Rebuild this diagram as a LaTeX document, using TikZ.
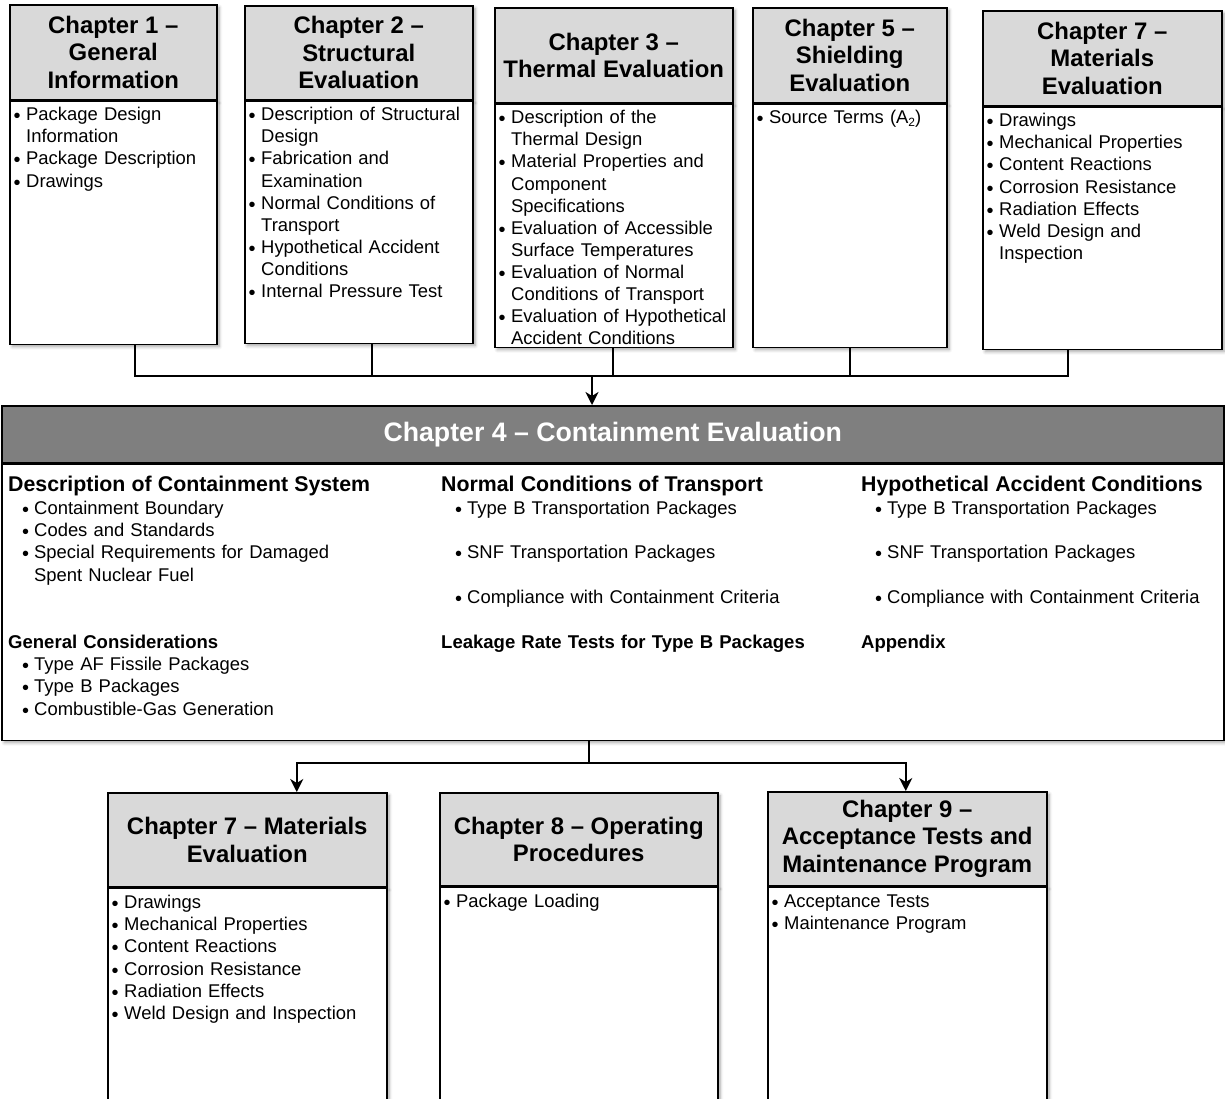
\documentclass[tikz,border=0pt]{standalone}
\usepackage{fontspec}
\setmainfont{Liberation Sans}
\usepackage{xcolor}
\usepackage{tikz}
\usetikzlibrary{arrows.meta,positioning,shadows.blur}

\definecolor{headgray}{HTML}{D9D9D9}
\definecolor{maingray}{HTML}{7F7F7F}

% bullets for the chapter boxes
\newlength{\bulind}
\setlength{\bulind}{17bp}
\newcommand{\bul}{\strut\makebox[\bulind][l]{\hspace{4.5bp}\raisebox{-2bp}{\fontsize{20}{20}\selectfont\textbullet}}}
\newcommand{\cont}{\strut\hspace*{\bulind}}
% indented bullets for chapter 4
\newcommand{\ibul}{\strut\makebox[26bp][l]{\hspace{14bp}\raisebox{-2bp}{\fontsize{20}{20}\selectfont\textbullet}}}
\newcommand{\icont}{\strut\hspace*{26bp}}
\newcommand{\subhead}[1]{{\bfseries\fontsize{21.4}{22.4}\selectfont #1}}
\newcommand{\subsub}[1]{{\bfseries\fontsize{18.6}{22.4}\selectfont #1}}

\begin{document}
\begin{tikzpicture}[
      x=1bp, y=-1bp,
      headbox/.style={
         draw=black,
         line width=1.5bp,
         fill=headgray,
         anchor=north west,
         align=center,
         inner sep=0pt,
         font=\fontsize{24}{27.5}\selectfont\bfseries,
         blur shadow={shadow xshift=2.5bp, shadow yshift=-2.5bp, shadow blur radius=3bp, shadow opacity=35}},
      bodybox/.style={
         draw=black,
         line width=1.5bp,
         fill=white,
         anchor=north west,
         inner sep=0pt,
         blur shadow={shadow xshift=2.5bp, shadow yshift=-2.5bp, shadow blur radius=3bp, shadow opacity=35}},
      bodytext/.style={
         anchor=north west,
         inner sep=0pt,
         text width=330bp,
         align=left,
         font=\fontsize{18.5}{22.2}\selectfont},
      coltext/.style={
         anchor=north west,
         inner sep=0pt,
         text width=420bp,
         align=left,
         font=\fontsize{18.5}{22.4}\selectfont},
      link/.style={line width=2bp},
      myarrow/.style={link, -{Stealth[length=13bp,width=13bp,inset=4bp]}}
      ]
\useasboundingbox (0,0) rectangle (1225,1099);
\clip (0,0) rectangle (1225,1099);

% chapters feeding chapter 4
\node[headbox, minimum width=207bp, minimum height=95bp] (h1) at (9,4) {Chapter 1 --\\General\\Information};
\node[bodybox, minimum width=207bp, minimum height=243bp] (b1) at (h1.south west) {};
\node[bodytext] (t1) at ([yshift=-4.5bp]b1.north west) {%
\bul Package Design\\\cont Information\\
\bul Package Description\\
\bul Drawings};

\node[headbox, minimum width=228bp, minimum height=94bp] (h2) at (244,5) {Chapter 2 --\\Structural\\Evaluation};
\node[bodybox, minimum width=228bp, minimum height=242bp] (b2) at (h2.south west) {};
\node[bodytext] (t2) at ([yshift=-4.5bp]b2.north west) {%
\bul Description of Structural\\\cont Design\\
\bul Fabrication and\\\cont Examination\\
\bul Normal Conditions of\\\cont Transport\\
\bul Hypothetical Accident\\\cont Conditions\\
\bul Internal Pressure Test};

\node[headbox, minimum width=238bp, minimum height=95bp] (h3) at (494,7) {Chapter 3 --\\Thermal Evaluation};
\node[bodybox, minimum width=238bp, minimum height=243bp] (b3) at (h3.south west) {};
\node[bodytext] (t3) at ([yshift=-4.5bp]b3.north west) {%
\bul Description of the\\\cont Thermal Design\\
\bul Material Properties and\\\cont Component\\\cont Specifications\\
\bul Evaluation of Accessible\\\cont Surface Temperatures\\
\bul Evaluation of Normal\\\cont Conditions of Transport\\
\bul Evaluation of Hypothetical\\\cont Accident Conditions};

\node[headbox, minimum width=194bp, minimum height=95bp] (h5) at (752,7) {Chapter 5 --\\Shielding\\Evaluation};
\node[bodybox, minimum width=194bp, minimum height=243bp] (b5) at (h5.south west) {};
\node[bodytext] (t5) at ([yshift=-4.5bp]b5.north west) {%
\bul Source Terms (A\raisebox{-0.25ex}{\fontsize{12}{12}\selectfont 2})};

\node[headbox, minimum width=239bp, minimum height=95bp] (h7) at (982,10) {Chapter 7 --\\Materials\\Evaluation};
\node[bodybox, minimum width=239bp, minimum height=242bp] (b7) at (h7.south west) {};
\node[bodytext] (t7) at ([yshift=-4.5bp]b7.north west) {%
\bul Drawings\\
\bul Mechanical Properties\\
\bul Content Reactions\\
\bul Corrosion Resistance\\
\bul Radiation Effects\\
\bul Weld Design and\\\cont Inspection};

% chapter 4
\node[headbox, fill=maingray, text=white, minimum width=1222bp, minimum height=57bp,
      font=\fontsize{26.8}{30}\selectfont\bfseries] (ch4h) at (1,405) {Chapter 4 -- Containment Evaluation};
\node[bodybox, minimum width=1222bp, minimum height=276bp] (ch4b) at (ch4h.south west) {};

\node[coltext] (d1) at (8,476.3) {%
\subhead{Description of Containment System}\\
\ibul Containment Boundary\\
\ibul Codes and Standards\\
\ibul Special Requirements for Damaged\\\icont Spent Nuclear Fuel\\[44.8bp]
\subsub{General Considerations}\\
\ibul Type AF Fissile Packages\\
\ibul Type B Packages\\
\ibul Combustible-Gas Generation};

\node[coltext] (d2) at (441,476.3) {%
\subhead{Normal Conditions of Transport}\\
\ibul Type B Transportation Packages\\[22.4bp]
\ibul SNF Transportation Packages\\[22.4bp]
\ibul Compliance with Containment Criteria\\[22.4bp]
\subsub{Leakage Rate Tests for Type B Packages}};

\node[coltext] (d3) at (861,476.3) {%
\subhead{Hypothetical Accident Conditions}\\
\ibul Type B Transportation Packages\\[22.4bp]
\ibul SNF Transportation Packages\\[22.4bp]
\ibul Compliance with Containment Criteria\\[22.4bp]
\subsub{Appendix}};

% chapters after chapter 4
\node[headbox, minimum width=279bp, minimum height=94bp] (c7h) at (107,792) {Chapter 7 -- Materials\\Evaluation};
\node[bodybox, minimum width=279bp, minimum height=260bp] (c7b) at (c7h.south west) {};
\node[bodytext] (c7t) at ([yshift=-5.5bp]c7b.north west) {%
\bul Drawings\\
\bul Mechanical Properties\\
\bul Content Reactions\\
\bul Corrosion Resistance\\
\bul Radiation Effects\\
\bul Weld Design and Inspection};

\node[headbox, minimum width=278bp, minimum height=93bp] (c8h) at (439,792) {Chapter 8 -- Operating\\Procedures};
\node[bodybox, minimum width=278bp, minimum height=260bp] (c8b) at (c8h.south west) {};
\node[bodytext] (c8t) at ([yshift=-5.5bp]c8b.north west) {%
\bul Package Loading};

\node[headbox, minimum width=279bp, minimum height=94bp] (c9h) at (767,791) {Chapter 9 --\\Acceptance Tests and\\Maintenance Program};
\node[bodybox, minimum width=279bp, minimum height=260bp] (c9b) at (c9h.south west) {};
\node[bodytext] (c9t) at ([yshift=-5.5bp]c9b.north west) {%
\bul Acceptance Tests\\
\bul Maintenance Program};

% connectors
\coordinate (jt) at (592,376);
\coordinate (jb) at (589,763);
\foreach \n/\s in {% box/shift of its stub
      b1/21.5, b2/13, b3/-1, b5/0, b7/-34.5}
   \draw[link] ([xshift=\s bp]\n.south) |- (jt);
\draw[myarrow] (jt) -- (jt |- ch4h.north);

\draw[link] (ch4b.south -| jb) -- (jb);
\draw[myarrow] (jb) -| ([xshift=49.5bp]c7h.north);
\draw[myarrow] (jb) -| ([xshift=-1.5bp]c9h.north);

\end{tikzpicture}
\end{document}
